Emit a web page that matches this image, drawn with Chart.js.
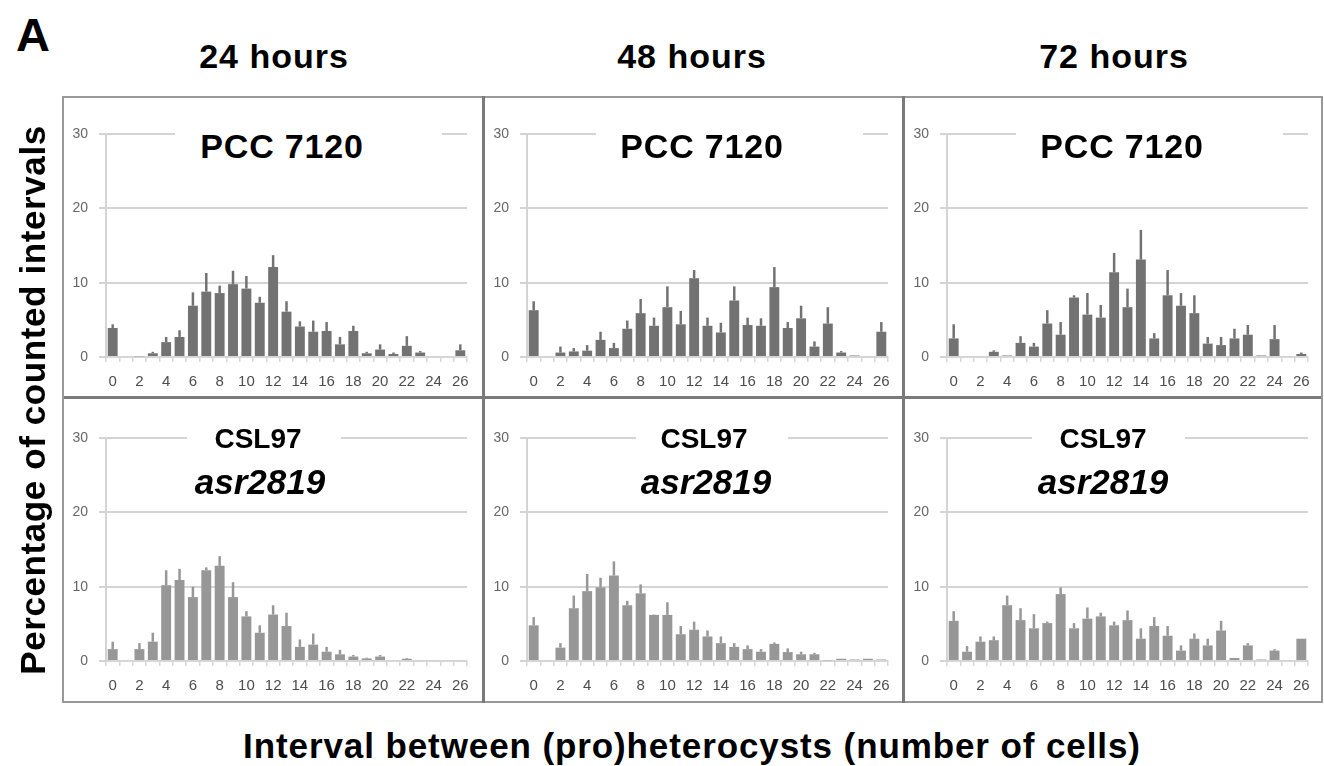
<!DOCTYPE html>
<html lang="en">
  <head>
    <meta charset="UTF-8" />
    <title>Heterocyst interval distributions</title>
    <script src="https://cdn.jsdelivr.net/npm/chart.js@4.4.0/dist/chart.umd.min.js"></script>
    <style>
      body { margin: 0; background: #fff; font-family: 'Liberation Sans', Arial, sans-serif; }
      #page { position: relative; width: 1324px; height: 766px; overflow: hidden; }
      canvas { position: absolute; }
      .txt { position: absolute; font-weight: bold; color: #000; white-space: nowrap; line-height: 1; }
      .hline, .vline { position: absolute; background: #7a7a7a; }
      .box { position: absolute; background: #fff; text-align: center; font-weight: bold; line-height: 1; white-space: nowrap; }
      .box span { white-space: nowrap; }
    </style>
  </head>
  <body>
    <div id="page">
      <canvas id="c24a" width="421" height="300" style="left:62px;top:97px"></canvas>
      <canvas id="c48a" width="421" height="300" style="left:483px;top:97px"></canvas>
      <canvas id="c72a" width="421" height="300" style="left:903px;top:97px"></canvas>
      <canvas id="c24b" width="421" height="305" style="left:62px;top:397px"></canvas>
      <canvas id="c48b" width="421" height="305" style="left:483px;top:397px"></canvas>
      <canvas id="c72b" width="421" height="305" style="left:903px;top:397px"></canvas>

      <div class="hline" style="left:62px;top:96px;width:1261px;height:2px;background:#999"></div>
      <div class="hline" style="left:62px;top:396px;width:1261px;height:3px"></div>
      <div class="hline" style="left:62px;top:701px;width:1261px;height:2px;background:#999"></div>
      <div class="vline" style="left:62px;top:96px;width:2px;height:607px;background:#999"></div>
      <div class="vline" style="left:482px;top:96px;width:3px;height:607px"></div>
      <div class="vline" style="left:902px;top:96px;width:3px;height:607px"></div>
      <div class="vline" style="left:1321px;top:96px;width:2px;height:607px;background:#999"></div>

      <div class="txt" style="left:16px;top:11px;font-size:47px">A</div>
      <div class="txt" style="left:274px;top:56px;font-size:34px;letter-spacing:1px;transform:translate(-50%,-50%)">24 hours</div>
      <div class="txt" style="left:692px;top:56px;font-size:34px;letter-spacing:1px;transform:translate(-50%,-50%)">48 hours</div>
      <div class="txt" style="left:1114px;top:56px;font-size:34px;letter-spacing:1px;transform:translate(-50%,-50%)">72 hours</div>
      <div class="txt" style="left:32px;top:400px;font-size:35px;letter-spacing:0.6px;transform:translate(-50%,-50%) rotate(-90deg)">Percentage of counted intervals</div>
      <div class="txt" style="left:692px;top:745px;font-size:35px;letter-spacing:0.9px;transform:translate(-50%,-50%)">Interval between (pro)heterocysts (number of cells)</div>

      <div class="box" style="left:175px;top:126px;width:267px;height:40px;font-size:34px;letter-spacing:0.8px"><span style="position:absolute;left:107px;top:3px;transform:translateX(-50%)">PCC 7120</span></div>
      <div class="box" style="left:596px;top:126px;width:267px;height:40px;font-size:34px;letter-spacing:0.8px"><span style="position:absolute;left:106px;top:3px;transform:translateX(-50%)">PCC 7120</span></div>
      <div class="box" style="left:1016px;top:126px;width:267px;height:40px;font-size:34px;letter-spacing:0.8px"><span style="position:absolute;left:106px;top:3px;transform:translateX(-50%)">PCC 7120</span></div>

      <div class="box" style="left:187px;top:425px;width:154px;height:30px;font-size:28px"><span style="position:absolute;left:71px;top:0px;transform:translateX(-50%)">CSL97</span></div>
      <div class="box" style="left:636px;top:425px;width:152px;height:30px;font-size:28px"><span style="position:absolute;left:68px;top:0px;transform:translateX(-50%)">CSL97</span></div>
      <div class="box" style="left:1032px;top:425px;width:153px;height:30px;font-size:28px"><span style="position:absolute;left:71px;top:0px;transform:translateX(-50%)">CSL97</span></div>
      <div class="txt" style="left:260px;top:481px;font-size:35px;font-style:italic;transform:translate(-50%,-50%)">asr2819</div>
      <div class="txt" style="left:706px;top:481px;font-size:35px;font-style:italic;transform:translate(-50%,-50%)">asr2819</div>
      <div class="txt" style="left:1103px;top:481px;font-size:35px;font-style:italic;transform:translate(-50%,-50%)">asr2819</div>
    </div>

    <script>
      // interval length (cells) 0..26
      const intervals = ['0','1','2','3','4','5','6','7','8','9','10','11','12','13','14','15','16','17','18','19','20','21','22','23','24','25','26'];
      const yTicks = [0, 10, 20, 30];

      // PCC 7120 (wild type), % of counted intervals, and upper error
      const wt24 = [3.9, 0, 0.1, 0.5, 2.0, 2.7, 6.9, 8.8, 8.6, 9.8, 9.2, 7.3, 12.1, 6.1, 4.1, 3.4, 3.5, 1.7, 3.5, 0.5, 1.0, 0.4, 1.5, 0.6, 0, 0, 0.9];
      const wt24Err = [0.5, 0, 0, 0.2, 0.7, 0.9, 1.8, 2.5, 1.0, 1.8, 1.7, 0.8, 1.6, 1.4, 0.7, 1.5, 1.2, 1.0, 0.7, 0.2, 0.7, 0.2, 1.3, 0.2, 0, 0, 0.8];
      const wt48 = [6.3, 0, 0.6, 0.75, 0.85, 2.3, 1.2, 3.8, 5.9, 4.2, 6.7, 4.4, 10.6, 4.2, 3.3, 7.6, 4.3, 4.2, 9.4, 3.9, 5.2, 1.4, 4.5, 0.6, 0.2, 0, 3.4];
      const wt48Err = [1.2, 0, 0.8, 0.45, 0.75, 1.1, 0.7, 1.1, 1.9, 1.1, 2.8, 1.8, 1.1, 1.1, 1.3, 1.9, 1.0, 1.0, 2.7, 0.8, 1.7, 0.7, 2.2, 0.2, 0, 0, 1.3];
      const wt72 = [2.5, 0, 0, 0.7, 0.2, 1.9, 1.4, 4.5, 3.0, 8.0, 5.7, 5.3, 11.4, 6.7, 13.1, 2.5, 8.3, 6.9, 5.9, 1.8, 1.6, 2.5, 3.0, 0.2, 2.4, 0, 0.4];
      const wt72Err = [1.9, 0, 0, 0.2, 0, 0.9, 0.5, 1.8, 1.7, 0.3, 2.9, 1.7, 2.6, 2.5, 4.0, 0.7, 3.4, 1.7, 2.4, 0.9, 1.1, 1.3, 1.3, 0, 1.9, 0, 0.2];

      // CSL97 asr2819 mutant
      const mut24 = [1.6, 0, 1.6, 2.6, 10.2, 10.9, 8.6, 12.2, 12.8, 8.6, 6.0, 3.8, 6.25, 4.7, 1.9, 2.2, 1.25, 0.9, 0.6, 0.35, 0.6, 0, 0.3, 0, 0, 0, 0];
      const mut24Err = [1.0, 0, 0.8, 1.2, 2.0, 1.5, 1.4, 0.4, 1.3, 2.0, 0.7, 1.0, 1.25, 1.8, 1.0, 1.5, 0.65, 0.6, 0.2, 0.1, 0.2, 0, 0.1, 0, 0, 0, 0];
      const mut48 = [4.8, 0, 1.8, 7.1, 9.4, 9.9, 11.5, 7.5, 9.1, 6.2, 6.2, 3.6, 4.2, 3.3, 2.4, 1.9, 1.6, 1.25, 2.3, 1.2, 0.9, 0.9, 0.1, 0.3, 0.2, 0.3, 0.2];
      const mut48Err = [1.1, 0, 0.6, 1.7, 2.3, 1.3, 1.9, 0.6, 1.2, 0.05, 1.7, 1.1, 1.1, 0.8, 0.9, 0.5, 0.5, 0.35, 0.2, 0.5, 0.35, 0.2, 0, 0, 0, 0, 0];
      const mut72 = [5.4, 1.25, 2.6, 2.8, 7.5, 5.5, 4.4, 5.1, 9.0, 4.4, 5.7, 6.0, 4.8, 5.5, 3.0, 4.7, 3.4, 1.4, 3.0, 2.1, 4.1, 0.4, 2.1, 0.2, 1.4, 0, 3.0];
      const mut72Err = [1.3, 0.75, 0.7, 0.5, 1.3, 1.6, 1.9, 0.2, 0.9, 0.7, 1.5, 0.5, 0.5, 1.3, 1.4, 1.2, 1.3, 0.7, 0.7, 0.9, 1.3, 0, 0.3, 0, 0.2, 0, 0];

      // draws the upward error line on top of each bar
      const errorBars = {
        id: 'errorBars',
        afterDatasetsDraw(chart) {
          const ctx = chart.ctx;
          const yScale = chart.scales.y;
          chart.data.datasets.forEach((ds, di) => {
            chart.getDatasetMeta(di).data.forEach((bar, i) => {
              const e = ds.errs[i];
              if (!e) return;
              ctx.save();
              ctx.strokeStyle = ds.backgroundColor;
              ctx.lineWidth = 2.5;
              ctx.beginPath();
              ctx.moveTo(bar.x, yScale.getPixelForValue(ds.data[i]));
              ctx.lineTo(bar.x, yScale.getPixelForValue(ds.data[i] + e));
              ctx.stroke();
              ctx.restore();
            });
          });
        }
      };

      function makePanel(id, values, errs, color, top, bottom) {
        const ctx = document.getElementById(id).getContext('2d');
        return new Chart(ctx, {
          type: 'bar',
          data: {
            labels: intervals,
            datasets: [{
              data: values,
              errs: errs,
              backgroundColor: color,
              barPercentage: 0.74,
              categoryPercentage: 1
            }]
          },
          options: {
            responsive: false,
            animation: false,
            layout: { padding: { left: 0, right: 16, top: top, bottom: 0 } },
            plugins: { legend: { display: false }, tooltip: { enabled: false } },
            scales: {
              x: {
                grid: { drawOnChartArea: false, color: '#d6d6d6', lineWidth: 1.5, tickLength: 5, offset: true },
                border: { color: '#d6d6d6', width: 2 },
                ticks: {
                  autoSkip: false, maxRotation: 0, padding: 11, color: '#4d4d4d',
                  font: { family: 'Liberation Sans', size: 15 },
                  callback: (v, i) => (i % 2 === 0 ? intervals[i] : '')
                },
                afterFit: s => { s.height = bottom; }
              },
              y: {
                min: 0, max: 30,
                afterBuildTicks: s => { s.ticks = yTicks.map(v => ({ value: v })); },
                ticks: { padding: 11, color: '#666', font: { family: 'Liberation Sans', size: 14 } },
                grid: { color: '#d4d4d4', lineWidth: 2, tickLength: 7 },
                border: { display: true, color: '#d4d4d4', width: 2 },
                afterFit: s => { s.width = 44; }
              }
            }
          },
          plugins: [errorBars]
        });
      }

      const topGrey = '#727272';
      const botGrey = '#979797';
      makePanel('c24a', wt24, wt24Err, topGrey, 37, 40);
      makePanel('c48a', wt48, wt48Err, topGrey, 37, 40);
      makePanel('c72a', wt72, wt72Err, topGrey, 37, 40);
      makePanel('c24b', mut24, mut24Err, botGrey, 41, 41);
      makePanel('c48b', mut48, mut48Err, botGrey, 41, 41);
      makePanel('c72b', mut72, mut72Err, botGrey, 41, 41);
    </script>
  </body>
</html>
